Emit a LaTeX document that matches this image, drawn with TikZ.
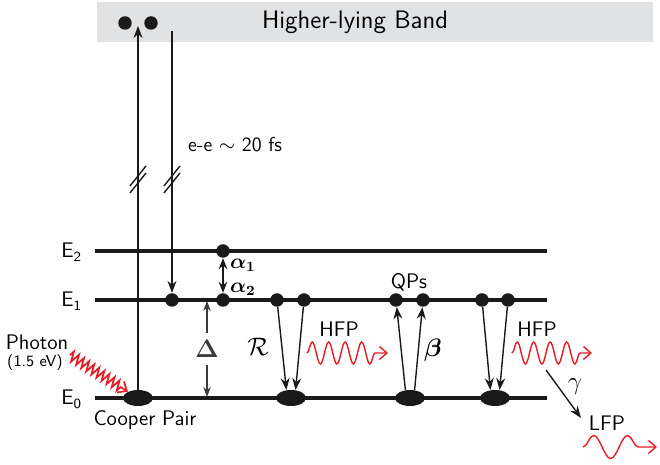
\documentclass[tikz,border=0pt]{standalone}
\usepackage{amsmath}
\usepackage{amssymb}
\usepackage{bm}
\usetikzlibrary{
  arrows.meta,
  shapes.geometric,
  positioning,
  calc,
  decorations.pathmorphing
}
\renewcommand{\familydefault}{\sfdefault}
\definecolor{qpRed}{HTML}{E41E26}
\definecolor{qpBand}{HTML}{E1E2E4}
\definecolor{qpInk}{HTML}{1A1A1A}
\tikzset{
  band/.style={fill=qpBand, minimum width=11.12cm, minimum height=0.8cm, inner sep=0pt},
  level/.style={line width=2pt, qpInk},
  qp/.style={circle, fill=qpInk, inner sep=0pt, minimum size=0.27cm},
  pair/.style={ellipse, fill=qpInk, inner sep=0pt, minimum width=0.6cm, minimum height=0.32cm},
  trans/.style={-{Stealth[length=2.4mm, width=1.8mm]}, line width=0.8pt, qpInk},
  dbl/.style={{Stealth[length=2.2mm, width=1.7mm]}-{Stealth[length=2.2mm, width=1.7mm]}, line width=1.1pt, qpInk},
  gaparrow/.style={{Stealth[length=2mm, width=1.5mm]}-{Stealth[length=2mm, width=1.5mm]}, line width=0.6pt, qpInk!85},
  breakmark/.style={line width=0.8pt, qpInk},
  photon/.style={qpRed, line width=1pt, decorate,
    decoration={zigzag, amplitude=0.1cm, segment length=0.12cm, post length=1.5mm},
    -{Straight Barb[length=1.5mm, width=2.6mm]}},
  hfwave/.style={qpRed, line width=0.8pt, decorate,
    decoration={snake, amplitude=0.22cm, segment length=0.33cm, post length=1mm},
    -{Straight Barb[length=1.5mm, width=2.6mm]}},
  lfwave/.style={hfwave, decoration={snake, amplitude=0.23cm, segment length=0.68cm, post length=1mm}},
  lab/.style={font=\large, inner sep=1pt},
  biglab/.style={font=\Large, inner sep=1pt}
}
\begin{document}
\begin{tikzpicture}[x=0.02cm, y=-0.02cm]
  \useasboundingbox (0,0) rectangle (660,465);
  % higher-lying band
  \node[band] (hband) at (375,22) {};
  \node[biglab] (hbtext) at (355,22) {Higher-lying Band};
  \node[qp] (hb1) at (125,23) {};
  \node[qp] (hb2) at (151,23) {};

  % energy levels
  \foreach \lvl/\yy in {2/251, 1/300, 0/398}{
    \draw[level] (95,\yy) coordinate (L\lvl w) -- (547,\yy) coordinate (L\lvl e);
    \node[lab, anchor=base east] (E\lvl) at (84,\yy+7) {E\textsubscript{\lvl}};
  }

  % quasiparticles and pairs
  \node[qp] (a1) at (223,251) {};
  \node[qp] (a2) at (223,300) {};
  \node[qp] (b1) at (172,300) {};
  \foreach \name/\xx in {r1/277, r2/304, q1/396, q2/423, s1/482, s2/508}
    \node[qp] (\name) at (\xx,300) {};
  \foreach \name/\xx in {cp/138, pr/291, pq/410, ps/495}
    \node[pair] (\name) at (\xx,398) {};

  % excitation and e-e relaxation
  \coordinate (exUp) at (138,26);
  \coordinate (exDown) at (172,31);
  \draw[trans] (cp) -- (exUp);
  \draw[trans] (exDown) -- (b1);
  \foreach \xx in {138,172}
    \foreach \yc in {176,183}
      \draw[breakmark] (\xx-8,\yc+10) -- (\xx+8,\yc-10);
  \node[font=\fontsize{11.5}{13}\selectfont] (eeLab) at (235,145) {e-e $\sim$ 20 fs};

  \coordinate (phS) at (70,355);
  \draw[photon] (phS) -- (cp);
  \node[lab, anchor=base] (phLab) at (37,350) {Photon};
  \node[font=\small, inner sep=0pt, anchor=base] (phEv) at (35,367) {(1.5 eV)};
  \node[lab] (cpLab) at (145,420) {Cooper Pair};

  \draw[dbl] (a1) -- (a2);
  \node[lab, anchor=west] (alpha1) at (228,265) {$\boldsymbol{\alpha_1}$};
  \node[lab, anchor=west] (alpha2) at (228,289) {$\boldsymbol{\alpha_2}$};

  \coordinate (gapT) at (207,301);
  \coordinate (gapB) at (207,397);
  \draw[gaparrow] (gapT) -- node[biglab, fill=white, inner sep=4pt] (gapLab) {$\boldsymbol{\Delta}$} (gapB);

  % recombination, pair breaking, relaxation
  \draw[trans] (r1) -- (pr.120);
  \draw[trans] (r2) -- (pr.60);
  \draw[trans] (pq.120) -- (q1);
  \draw[trans] (pq.60) -- (q2);
  \draw[trans] (s1) -- (ps.120);
  \draw[trans] (s2) -- (ps.60);
  \node[biglab] (rLab) at (258,347) {$\mathcal{R}$};
  \node[lab] (qpLab) at (409,282) {QPs};
  \node[biglab] (betaLab) at (433,350) {$\boldsymbol{\beta}$};

  \coordinate (w1s) at (307,353);
  \coordinate (w1e) at (388,353);
  \draw[hfwave] (w1s) -- (w1e);
  \node[lab] (hfp1) at (339,329) {HFP};

  \coordinate (w2s) at (512,353);
  \coordinate (w2e) at (592,353);
  \draw[hfwave] (w2s) -- (w2e);
  \node[lab] (hfp2) at (537,329) {HFP};

  \coordinate (gS) at (546,370);
  \coordinate (gE) at (581,418);
  \draw[trans] (gS) -- (gE);
  \node[biglab] (gammaLab) at (575,387) {$\gamma$};

  \coordinate (w3s) at (583,447);
  \coordinate (w3e) at (657,447);
  \draw[lfwave] (w3s) -- (w3e);
  \node[lab] (lfp) at (607,423) {LFP};
\end{tikzpicture}
\end{document}
